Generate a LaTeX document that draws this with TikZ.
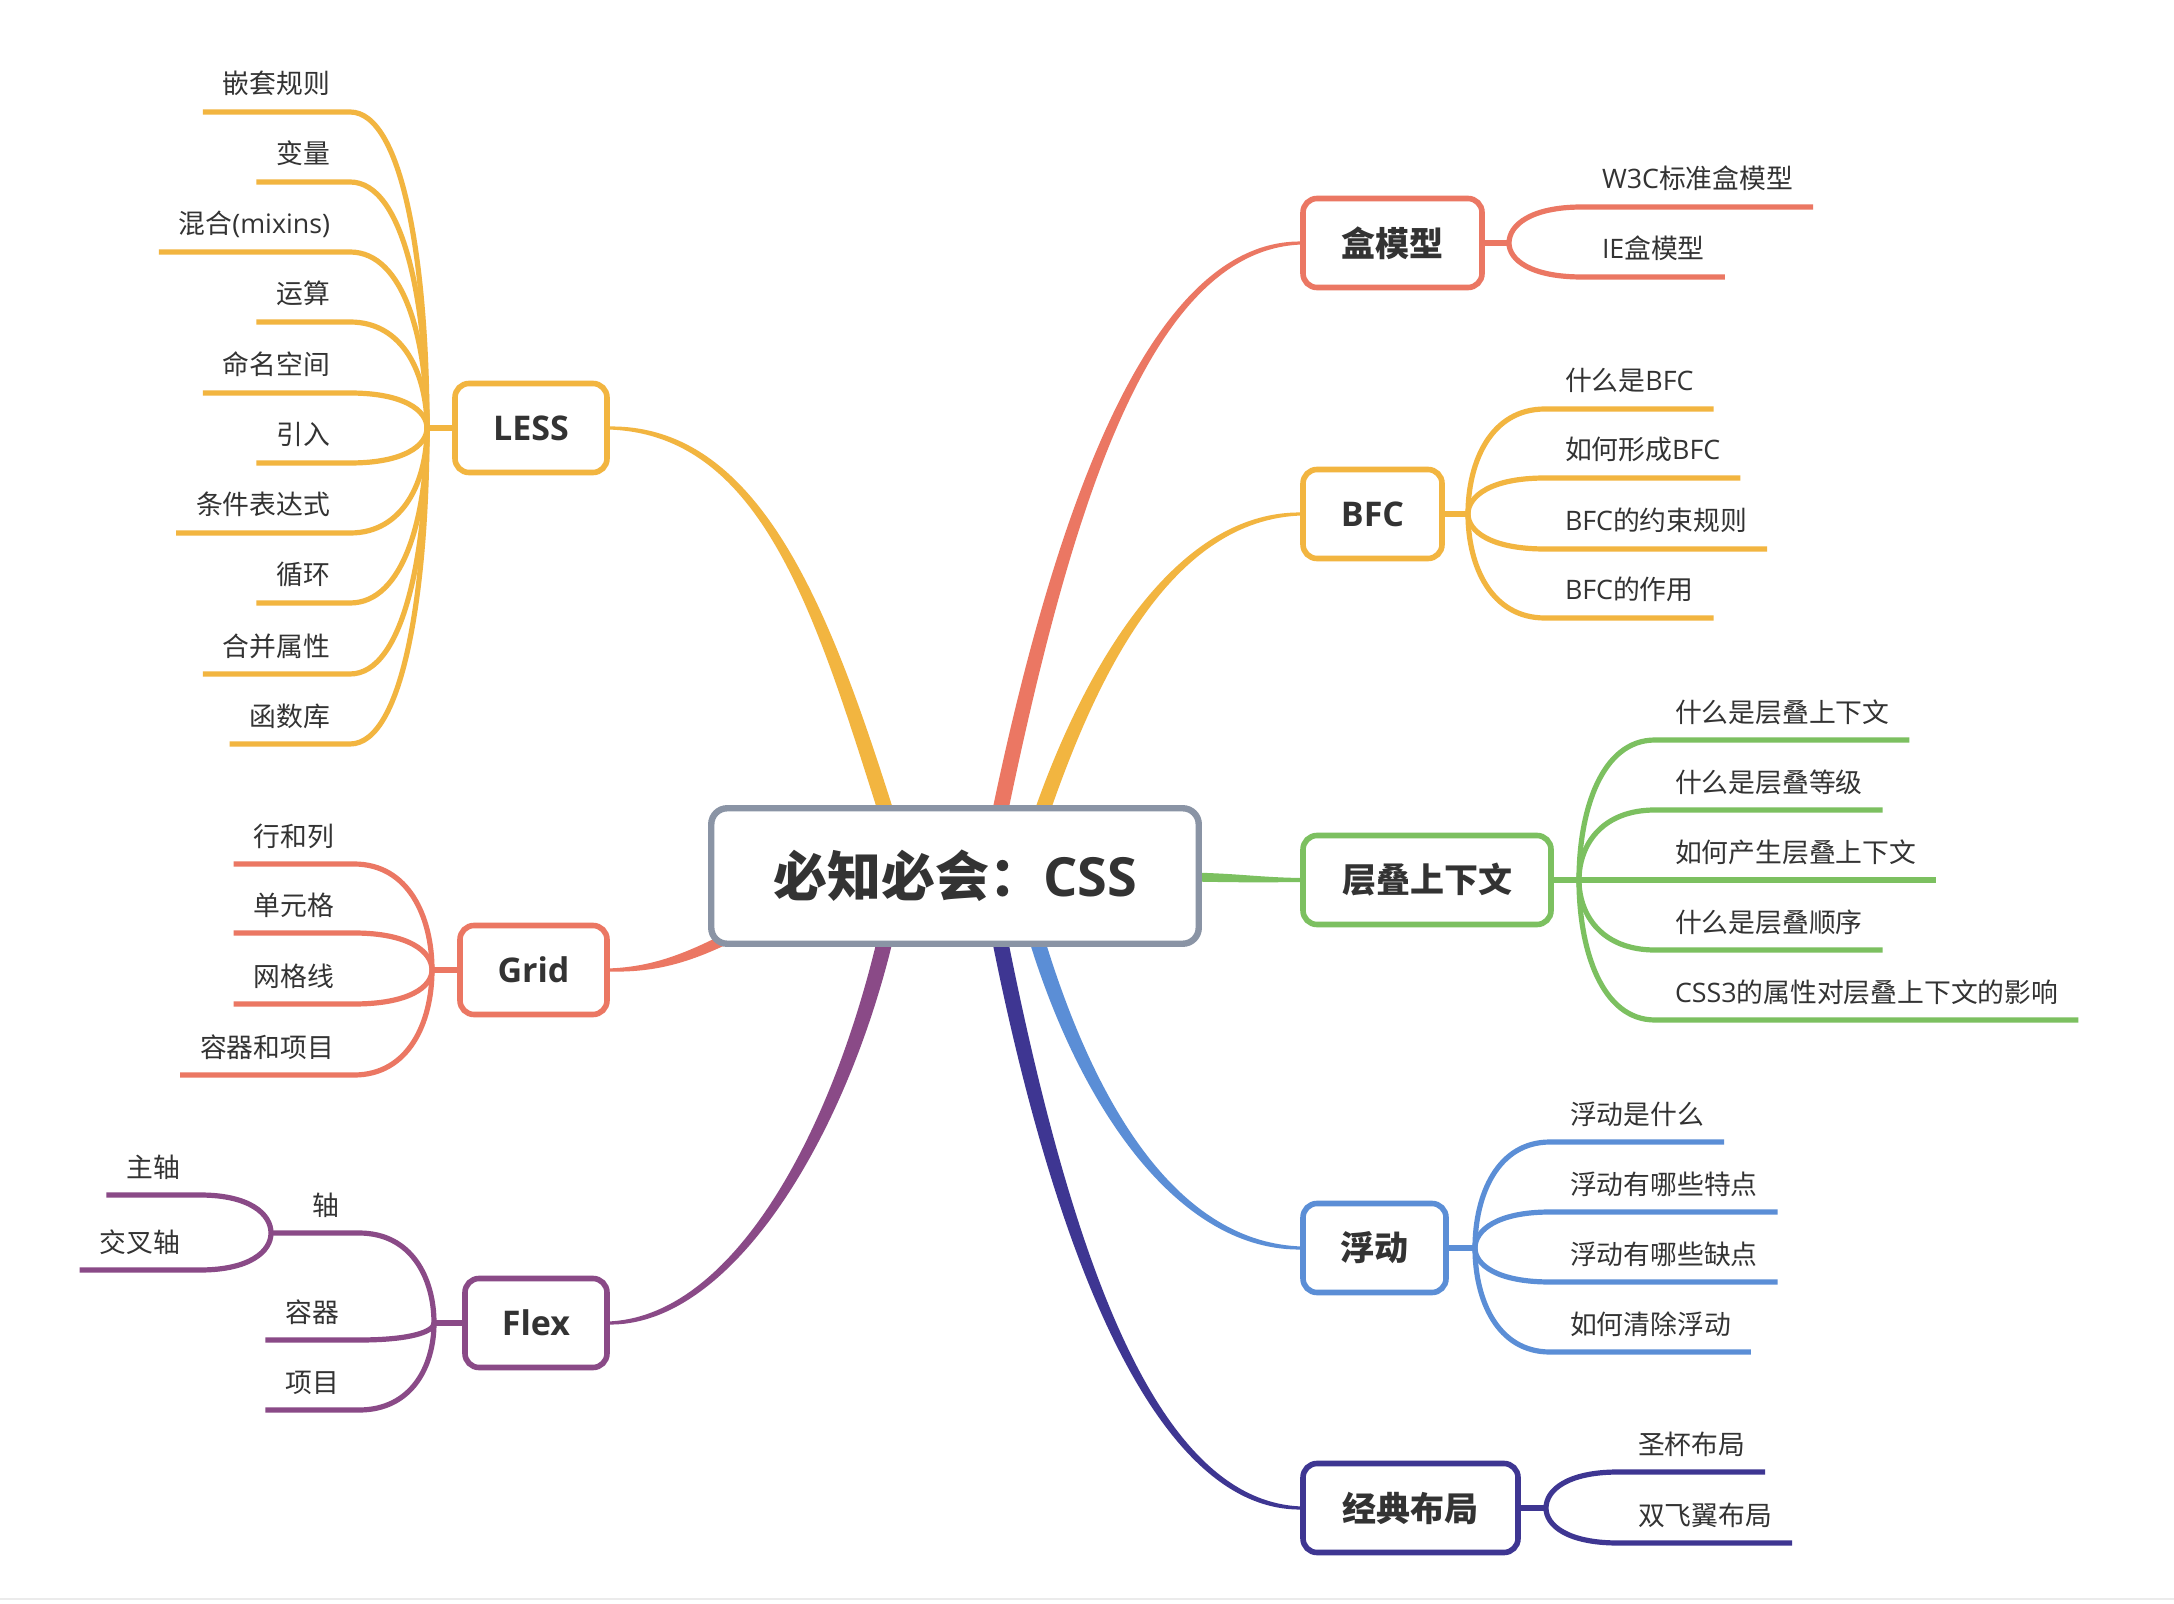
\documentclass[tikz,border=0pt]{standalone}
\usepackage{fontspec}
\setmainfont{Noto Sans CJK SC}
\newfontfamily\lat{Open Sans}
\usetikzlibrary{calc,backgrounds}
\definecolor{cred}{HTML}{EB7763}
\definecolor{cyel}{HTML}{F2B540}
\definecolor{cgrn}{HTML}{7CC060}
\definecolor{cblu}{HTML}{5B8ED6}
\definecolor{cnav}{HTML}{3E3692}
\definecolor{cpur}{HTML}{8A4A87}
\definecolor{cgry}{HTML}{8A94A5}
\definecolor{txtc}{HTML}{333333}
% tapered main connector, start leaves vertically
% #1 colour, #2 start, #3 c1, #4 c2, #5 end, #6 half width at start (signed), #7 half width at end (signed), #8 half width at c2 (signed)
\newcommand\taperv[8]{\fill[#1] ($(#2)+(#6,0)$) .. controls ($(#3)+(#6,0)$) and ($(#4)+(0,#8)$) .. ($(#5)+(0,#7)$) -- ($(#5)-(0,#7)$) .. controls ($(#4)-(0,#8)$) and ($(#3)-(#6,0)$) .. ($(#2)-(#6,0)$) -- cycle;}
% tapered main connector, start leaves horizontally
\newcommand\taperh[8]{\fill[#1] ($(#2)+(0,#6)$) .. controls ($(#3)+(0,#6)$) and ($(#4)+(0,#8)$) .. ($(#5)+(0,#7)$) -- ($(#5)-(0,#7)$) .. controls ($(#4)-(0,#8)$) and ($(#3)-(0,#6)$) .. ($(#2)-(0,#6)$) -- cycle;}
% right subtopic: name, colour, junction, x of line start, y of line, text
\newcommand\rsub[6]{%
  \node[txt,anchor=base west] (#1) at (#4,#5-18) {#6};
  \coordinate (#1s) at ($(#1.base west)+(0,18)$);
  \coordinate (#1e) at ($(#1.base east)+(0,18)$);
  \draw[subline=#2] (#3) .. controls ($(#3)!0.5!(#3|-#1s)$) and ($(#1s)!0.7!(#3|-#1s)$) .. (#1s) -- (#1e);}
% left subtopic
\newcommand\lsub[6]{%
  \node[txt,anchor=base east] (#1) at (#4,#5-18) {#6};
  \coordinate (#1s) at ($(#1.base east)+(0,18)$);
  \coordinate (#1e) at ($(#1.base west)+(0,18)$);
  \draw[subline=#2] (#3) .. controls ($(#3)!0.5!(#3|-#1s)$) and ($(#1s)!0.7!(#3|-#1s)$) .. (#1s) -- (#1e);}
\begin{document}
\begin{tikzpicture}[x=0.5pt,y=-0.5pt,
  txt/.style={text=txtc,font=\fontsize{13.4}{16}\selectfont,inner xsep=10pt,inner ysep=1pt,outer sep=0pt},
  topic/.style={draw=#1,line width=2.8pt,rounded corners=7pt,fill=white,text=txtc,
    font=\fontsize{17}{20}\selectfont\bfseries,minimum height=44.5pt,inner xsep=2pt,outer sep=0pt},
  rootbox/.style={draw=cgry,line width=3.2pt,rounded corners=8pt,fill=white,text=txtc,
    font=\fontsize{27}{32}\selectfont\bfseries,minimum width=243.75pt,minimum height=67.75pt,outer sep=0pt},
  subline/.style={draw=#1,line width=2.6pt}]
\useasboundingbox (0,0) rectangle (2174,1604);
\begin{pgfonlayer}{background}
\fill[white] (0,0) rectangle (2174,1604);
\draw[line width=1pt,black!8] (0,1599) -- (2174,1599);
\end{pgfonlayer}

% ---------- nodes ----------
\node[rootbox] (root) at (955,876) {必知必会：{\lat CSS}};

\node[topic=cred,minimum width=89.5pt,anchor=west] (bm) at (1303,243) {盒模型};
\node[topic=cyel,minimum width=69.5pt,anchor=west] (bfc) at (1303,514) {\lat BFC};
\node[topic=cgrn,minimum width=124pt,anchor=west] (cd) at (1303,880) {层叠上下文};
\node[topic=cblu,minimum width=71.5pt,anchor=west] (fd) at (1303,1248) {浮动};
\node[topic=cnav,minimum width=107.5pt,anchor=west] (jd) at (1303,1508) {经典布局};

\node[topic=cyel,minimum width=76pt,anchor=east] (less) at (607,428) {\lat LESS};
\node[topic=cred,minimum width=73.5pt,anchor=east] (grid) at (607,970) {\lat Grid};
\node[topic=cpur,minimum width=71pt,anchor=east] (flex) at (607,1323) {\lat Flex};

% ---------- main connectors ----------
\begin{pgfonlayer}{background}
\taperv{cred}{1000,812}{1063,510}{1150,243}{bm.west}{8}{1.5}{5}
\taperv{cyel}{1042,812}{1088,680}{1170,514}{bfc.west}{8}{1.5}{4.5}
\taperh{cgrn}{1190,877}{1240,878}{1260,880}{cd.west}{4.5}{2}{2.5}
\taperv{cblu}{1037,940}{1089,1110}{1180,1248}{fd.west}{8}{-1.5}{-4.5}
\taperv{cnav}{1000,940}{1066,1270}{1160,1508}{jd.west}{8}{-1.5}{-5}
\taperv{cyel}{886,812}{822,610}{760,428}{less.east}{8}{-1.5}{-5}
\taperh{cred}{770,915}{700,955}{660,970}{grid.east}{6.5}{1.5}{3}
\taperv{cpur}{885,940}{837,1140}{730,1323}{flex.east}{8}{1.5}{5}
\end{pgfonlayer}

% ---------- 盒模型 ----------
\coordinate (bmJ) at (1509,243);
\draw[subline=cred] (bm.east) -- (bmJ);
\rsub{bm1}{cred}{bmJ}{1582}{207}{{\lat W3C}标准盒模型}
\rsub{bm2}{cred}{bmJ}{1582}{277}{{\lat IE}盒模型}

% ---------- BFC ----------
\coordinate (bfcJ) at (1468,514);
\draw[subline=cyel] (bfc.east) -- (bfcJ);
\rsub{bf1}{cyel}{bfcJ}{1545}{409}{什么是{\lat BFC}}
\rsub{bf2}{cyel}{bfcJ}{1545}{478}{如何形成{\lat BFC}}
\rsub{bf3}{cyel}{bfcJ}{1545}{549}{{\lat BFC}的约束规则}
\rsub{bf4}{cyel}{bfcJ}{1545}{618}{{\lat BFC}的作用}

% ---------- 层叠上下文 ----------
\coordinate (cdJ) at (1579,880);
\draw[subline=cgrn] (cd.east) -- (cdJ);
\rsub{cd1}{cgrn}{cdJ}{1655}{740}{什么是层叠上下文}
\rsub{cd2}{cgrn}{cdJ}{1655}{810}{什么是层叠等级}
\rsub{cd3}{cgrn}{cdJ}{1655}{880}{如何产生层叠上下文}
\rsub{cd4}{cgrn}{cdJ}{1655}{950}{什么是层叠顺序}
\rsub{cd5}{cgrn}{cdJ}{1655}{1020}{{\lat CSS3}的属性对层叠上下文的影响}

% ---------- 浮动 ----------
\coordinate (fdJ) at (1475,1248);
\draw[subline=cblu] (fd.east) -- (fdJ);
\rsub{fd1}{cblu}{fdJ}{1550}{1142}{浮动是什么}
\rsub{fd2}{cblu}{fdJ}{1550}{1212}{浮动有哪些特点}
\rsub{fd3}{cblu}{fdJ}{1550}{1282}{浮动有哪些缺点}
\rsub{fd4}{cblu}{fdJ}{1550}{1352}{如何清除浮动}

% ---------- 经典布局 ----------
\coordinate (jdJ) at (1546,1508);
\draw[subline=cnav] (jd.east) -- (jdJ);
\rsub{jd1}{cnav}{jdJ}{1618}{1472}{圣杯布局}
\rsub{jd2}{cnav}{jdJ}{1618}{1543}{双飞翼布局}

% ---------- LESS ----------
\coordinate (lessJ) at (427,428);
\draw[subline=cyel] (less.west) -- (lessJ);
\lsub{ls1}{cyel}{lessJ}{350}{112}{嵌套规则}
\lsub{ls2}{cyel}{lessJ}{350}{182}{变量}
\lsub{ls3}{cyel}{lessJ}{350}{252}{混合{\lat (mixins)}}
\lsub{ls4}{cyel}{lessJ}{350}{322}{运算}
\lsub{ls5}{cyel}{lessJ}{350}{393}{命名空间}
\lsub{ls6}{cyel}{lessJ}{350}{463}{引入}
\lsub{ls7}{cyel}{lessJ}{350}{533}{条件表达式}
\lsub{ls8}{cyel}{lessJ}{350}{603}{循环}
\lsub{ls9}{cyel}{lessJ}{350}{674}{合并属性}
\lsub{ls10}{cyel}{lessJ}{350}{744}{函数库}

% ---------- Grid ----------
\coordinate (gridJ) at (432,970);
\draw[subline=cred] (grid.west) -- (gridJ);
\lsub{gr1}{cred}{gridJ}{354}{864}{行和列}
\lsub{gr2}{cred}{gridJ}{354}{933}{单元格}
\lsub{gr3}{cred}{gridJ}{354}{1004}{网格线}
\lsub{gr4}{cred}{gridJ}{354}{1075}{容器和项目}

% ---------- Flex ----------
\coordinate (flexJ) at (434,1323);
\draw[subline=cpur] (flex.west) -- (flexJ);
\node[txt,anchor=base east] (zhou) at (359,1215) {轴};
\coordinate (zhouS) at ($(zhou.base east)+(0,18)$);
\coordinate (zhouJ) at (271,1233);
\draw[subline=cpur] (flexJ) .. controls ($(flexJ)!0.5!(flexJ|-zhouS)$) and ($(zhouS)!0.7!(flexJ|-zhouS)$) .. (zhouS) -- (zhouJ);
\lsub{fx1}{cpur}{flexJ}{359}{1340}{容器}
\lsub{fx2}{cpur}{flexJ}{359}{1410}{项目}
\lsub{zx1}{cpur}{zhouJ}{200}{1195}{主轴}
\lsub{zx2}{cpur}{zhouJ}{200}{1270}{交叉轴}
\end{tikzpicture}
\end{document}
